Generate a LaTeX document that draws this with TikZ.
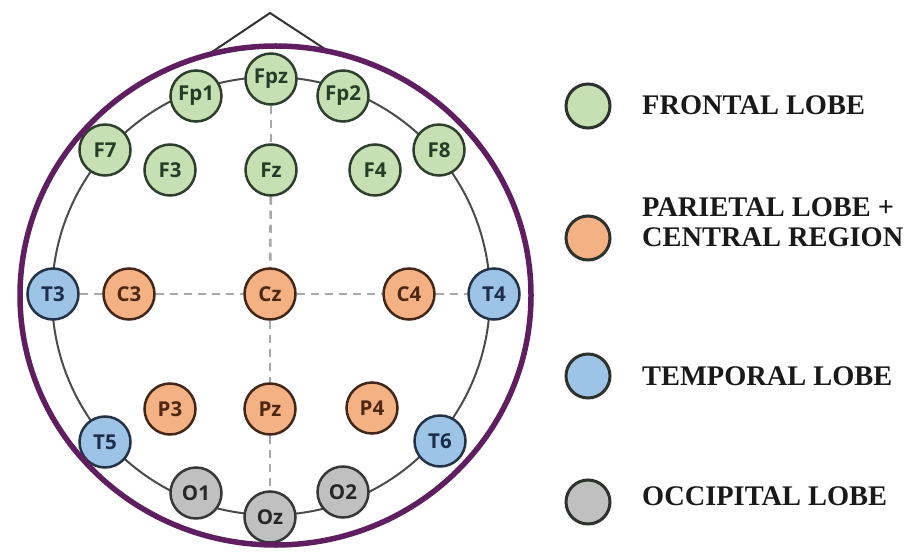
\documentclass[tikz,border=0pt]{standalone}
\usepackage{fontspec}
\setmainfont{Liberation Serif}
\newfontfamily\elecfont{Open Sans}
\usetikzlibrary{backgrounds}

\definecolor{frontfill}{RGB}{198,224,180}
\definecolor{frontline}{RGB}{45,62,45}
\definecolor{fronttext}{RGB}{38,60,38}
\definecolor{parfill}{RGB}{244,177,131}
\definecolor{parline}{RGB}{66,38,24}
\definecolor{partext}{RGB}{78,40,18}
\definecolor{tempfill}{RGB}{157,195,230}
\definecolor{templine}{RGB}{36,50,70}
\definecolor{temptext}{RGB}{28,46,76}
\definecolor{occfill}{RGB}{192,192,192}
\definecolor{occline}{RGB}{55,55,55}
\definecolor{occtext}{RGB}{38,38,38}
\definecolor{headline}{RGB}{75,75,75}
\definecolor{gridgray}{RGB}{168,168,168}
\definecolor{scalp}{RGB}{94,30,96}
\definecolor{keyline}{RGB}{45,50,45}

\begin{document}
\begin{tikzpicture}[x=1pt,y=-1pt,
  electrode/.style={circle, minimum size=51pt, inner sep=0pt, line width=2.5pt,
    font=\elecfont\bfseries\fontsize{20.5}{20.5}\selectfont},
  frontal/.style={electrode, fill=frontfill, draw=frontline, text=fronttext},
  parietal/.style={electrode, fill=parfill, draw=parline, text=partext},
  temporal/.style={electrode, fill=tempfill, draw=templine, text=temptext},
  occipital/.style={electrode, fill=occfill, draw=occline, text=occtext},
  midline/.style={draw=gridgray, line width=2.6pt, dash pattern=on 8pt off 6pt},
  outline/.style={draw=headline, line width=2pt},
  nose/.style={draw=black!80, line width=2pt},
  legendkey/.style={circle, minimum size=44pt, inner sep=0pt, line width=3pt, draw=keyline},
  legendtext/.style={anchor=base west, inner sep=0pt, text=black!90,
    font=\bfseries\fontsize{28.4}{30}\selectfont}
]
\useasboundingbox (0,0) rectangle (910,553);

% frontal electrodes
\node[frontal] (Fpz) at (271,79)  {Fpz};
\node[frontal] (Fp1) at (196,96)  {Fp1};
\node[frontal] (Fp2) at (343,96)  {Fp2};
\node[frontal] (F7)  at (105,150) {F7};
\node[frontal] (F8)  at (439,150) {F8};
\node[frontal] (F3)  at (170,170) {F3};
\node[frontal] (Fz)  at (271,170) {Fz};
\node[frontal] (F4)  at (375,170) {F4};

% central row
\node[temporal] (T3) at (53,294)  {T3};
\node[parietal] (C3) at (129,294) {C3};
\node[parietal] (Cz) at (270,294) {Cz};
\node[parietal] (C4) at (409,294) {C4};
\node[temporal] (T4) at (494,294) {T4};

% parietal row
\node[parietal] (P3) at (170,409) {P3};
\node[parietal] (Pz) at (270,409) {Pz};
\node[parietal] (P4) at (372,408) {P4};

% temporal / occipital
\node[temporal] (T5) at (105,442) {T5};
\node[temporal] (T6) at (440,441) {T6};
\node[occipital] (O1) at (196,493) {O1};
\node[occipital] (O2) at (343,492) {O2};
\node[occipital] (Oz) at (270,517) {Oz};

% nose
\coordinate (noseL)   at (209,54);
\coordinate (noseTip) at (270,13);
\coordinate (noseR)   at (331,53);

\begin{pgfonlayer}{background}
  \draw[nose] (noseL) -- (noseTip) -- (noseR);
  \draw[outline] (271,296) circle[radius=219];
  % sagittal and coronal midlines
  \draw[midline] (Fpz) -- (Fz);
  \draw[midline] (Fz) -- (Cz);
  \draw[midline] (Cz) -- (Pz);
  \draw[midline] (Pz) -- (Oz);
  \draw[midline] (T3) -- (C3);
  \draw[midline] (C3) -- (Cz);
  \draw[midline] (Cz) -- (C4);
  \draw[midline] (C4) -- (T4);
\end{pgfonlayer}

% scalp boundary
\draw[draw=scalp, line width=5.5pt] (275.5,295.5) ellipse[x radius=255.5, y radius=249.5];

% legend
\node[legendkey, fill=frontfill] (kF) at (588,106) {};
\node[legendkey, fill=parfill]   (kP) at (588,238) {};
\node[legendkey, fill=tempfill]  (kT) at (588,376) {};
\node[legendkey, fill=occfill]   (kO) at (588,502) {};

\node[legendtext] (lF)  at (642,115) {FRONTAL LOBE};
\node[legendtext] (lP1) at (642,217) {PARIETAL LOBE +};
\node[legendtext] (lP2) at (642,247) {CENTRAL REGION};
\node[legendtext] (lT)  at (642,385) {TEMPORAL LOBE};
\node[legendtext] (lO)  at (642,505) {OCCIPITAL LOBE};
\end{tikzpicture}
\end{document}
